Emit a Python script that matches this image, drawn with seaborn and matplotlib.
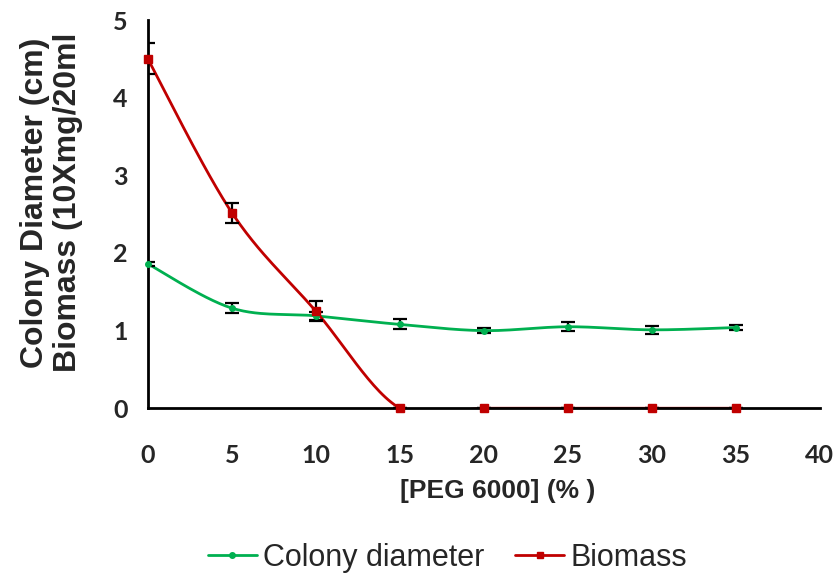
import numpy as np
import pandas as pd
import matplotlib
matplotlib.use("Agg")
import matplotlib.pyplot as plt
from matplotlib.lines import Line2D
import seaborn as sns

# data
peg = [0, 5, 10, 15, 20, 25, 30, 35]
colony = [1.86, 1.29, 1.19, 1.08, 1.00, 1.05, 1.01, 1.04]
colony_err = [0.03, 0.06, 0.05, 0.065, 0.03, 0.06, 0.055, 0.03]
biomass = [4.50, 2.52, 1.25, 0.0, 0.0, 0.0, 0.0, 0.0]
biomass_err = [0.20, 0.13, 0.13, 0.0, 0.0, 0.0, 0.0, 0.0]

green = "#00B050"
red = "#C00000"

sns.set_style("white")
plt.rcParams["font.family"] = ["Liberation Sans", "DejaVu Sans"]


def smooth(x, y, n=30):
    # Excel-like smoothed line (Catmull-Rom through the points)
    x = np.asarray(x, float)
    y = np.asarray(y, float)
    px = np.concatenate([[x[0]], x, [x[-1]]])
    py = np.concatenate([[y[0]], y, [y[-1]]])
    xs, ys = [], []
    for i in range(1, len(px) - 2):
        t = np.linspace(0, 1, n)
        for arr, out in ((px, xs), (py, ys)):
            p0, p1, p2, p3 = arr[i - 1], arr[i], arr[i + 1], arr[i + 2]
            c1 = p1 + (p2 - p0) / 6
            c2 = p2 - (p3 - p1) / 6
            out.extend((1 - t) ** 3 * p1 + 3 * (1 - t) ** 2 * t * c1
                       + 3 * (1 - t) * t ** 2 * c2 + t ** 3 * p2)
    return np.array(xs), np.array(ys)


fig = plt.figure(figsize=(8.4, 5.75), dpi=100)
ax = fig.add_axes([0.176, 0.290, 0.800, 0.675])

for y, err, color, marker, ms in [(colony, colony_err, green, "o", 4),
                                  (biomass, biomass_err, red, "s", 5.5)]:
    sx, sy = smooth(peg, y)
    curve = pd.DataFrame({"x": sx, "y": sy})
    sns.lineplot(data=curve, x="x", y="y", color=color, lw=2, ax=ax,
                 sort=False, estimator=None, zorder=2)
    ax.errorbar(peg, y, yerr=err, fmt="none", ecolor="black", elinewidth=1.6,
                capsize=5, capthick=1.6, zorder=3)
    ax.plot(peg, y, linestyle="none", marker=marker, ms=ms, color=color,
            zorder=4, clip_on=False)

ax.set_xlim(0, 40)
ax.set_ylim(0, 5)
ax.set_xticks(range(0, 41, 5))
ax.set_yticks(range(0, 6))
for s in ["top", "right"]:
    ax.spines[s].set_visible(False)
for s in ["left", "bottom"]:
    ax.spines[s].set_linewidth(2)
    ax.spines[s].set_color("black")
ax.tick_params(axis="both", direction="out", length=6.5, width=2,
               color="black", labelsize=18)
ax.tick_params(axis="x", pad=19)
ax.tick_params(axis="y", pad=8)
for lab in ax.get_xticklabels() + ax.get_yticklabels():
    lab.set_fontweight("bold")
    lab.set_family(["Lato", "DejaVu Sans"])

ax.set_xlabel("[PEG 6000] (% )", fontsize=19, fontweight="bold", va="top")
ax.xaxis.set_label_coords(0.52, -0.182)
ax.set_ylabel("Colony Diameter (cm)\nBiomass (10Xmg/20ml", fontsize=23,
              fontweight="bold", linespacing=1.1)
ax.yaxis.set_label_coords(-0.097, 0.53)

handles = [Line2D([], [], color=green, lw=2, marker="o", ms=4),
           Line2D([], [], color=red, lw=2, marker="s", ms=5)]
fig.legend(handles, ["Colony diameter", "Biomass"], loc="center",
           bbox_to_anchor=(0.533, 0.03), ncol=2, frameon=False, fontsize=22,
           handlelength=1.6, handletextpad=0.22, columnspacing=1.0,
           borderpad=0, borderaxespad=0)

fig.savefig("out.png", dpi=100)
